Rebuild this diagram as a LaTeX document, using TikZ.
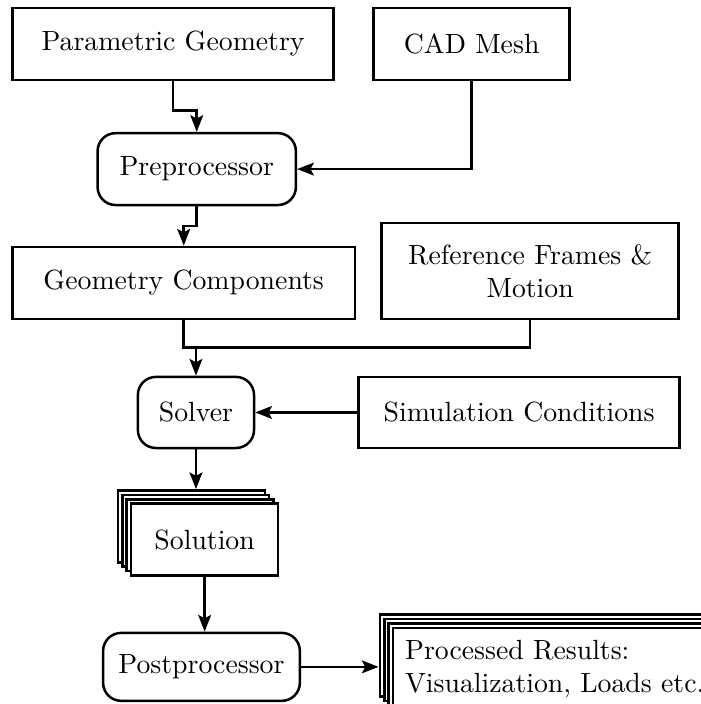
\documentclass[tikz,border=0pt]{standalone}
\usepackage{tikz}
\usetikzlibrary{arrows.meta,shadows}

\begin{document}
\begin{tikzpicture}[>={Stealth[length=6pt,width=4.6pt,inset=1.2pt]}, line width=0.9pt,
    box/.style={draw, fill=white, minimum height=0.91cm},
    rbox/.style={box, rounded corners=6.5pt},
    stack/.style={box,
        copy shadow={line width=0.9pt, shadow xshift=-4.8pt, shadow yshift=4.8pt},
        copy shadow={line width=0.9pt, shadow xshift=-3.2pt, shadow yshift=3.2pt},
        copy shadow={line width=0.9pt, shadow xshift=-1.6pt, shadow yshift=1.6pt}}]
    % 画布范围
    \useasboundingbox (0,0) rectangle (8.87,-8.91);

    % 输入几何
    \node[box, minimum width=4.06cm] (geom) at (2.19,-0.557) {Parametric Geometry};
    \node[box, minimum width=2.48cm] (cad) at (5.97,-0.557) {CAD Mesh};

    % 前处理
    \node[rbox, minimum width=2.51cm] (pre) at (2.49,-2.14) {Preprocessor};
    \draw[->] (geom.south) -- ++(0,-0.37) -| (pre.north);
    \draw[->] (cad.south) |- (pre.east);

    % 几何部件与参考系
    \node[box, minimum width=4.33cm] (gc) at (2.325,-3.58) {Geometry Components};
    \node[box, minimum width=3.76cm, minimum height=1.21cm, align=center] (rf) at (6.71,-3.43) {Reference Frames \&\\ Motion};
    \draw[->] (pre.south) -- ++(0,-0.25) -| (gc.north);

    % 求解器
    \node[rbox, minimum width=1.47cm, minimum height=0.9cm] (solver) at (2.48,-5.22) {Solver};
    \node[box, minimum width=4.06cm, minimum height=0.9cm] (sim) at (6.57,-5.22) {Simulation Conditions};
    \coordinate (join) at ([yshift=0.355cm]solver.north);
    \draw (gc.south) |- (join) -| (rf.south);
    \draw[->] (join) -- (solver.north);
    \draw[->] (sim) -- (solver);

    % 解
    \node[stack, minimum width=1.86cm] (sol) at (2.59,-6.83) {Solution};
    \coordinate (soltop) at ([yshift=4.8pt]sol.north);
    \draw[->] (solver.south) -- (solver.south |- soltop);

    % 后处理
    \node[rbox, minimum width=2.49cm, minimum height=0.86cm] (post) at (2.55,-8.44) {Postprocessor};
    \draw[->] (sol.south) -- (sol.south |- post.north);

    % 结果
    \node[stack, anchor=north west, align=left, inner sep=4.3pt] (res) at (4.96,-7.93) {Processed Results:\\ Visualization, Loads etc.};
    \coordinate (resleft) at ([xshift=-4.8pt]res.west);
    \draw[->] (post.east) -- (post.east -| resleft);
\end{tikzpicture}
\end{document}
